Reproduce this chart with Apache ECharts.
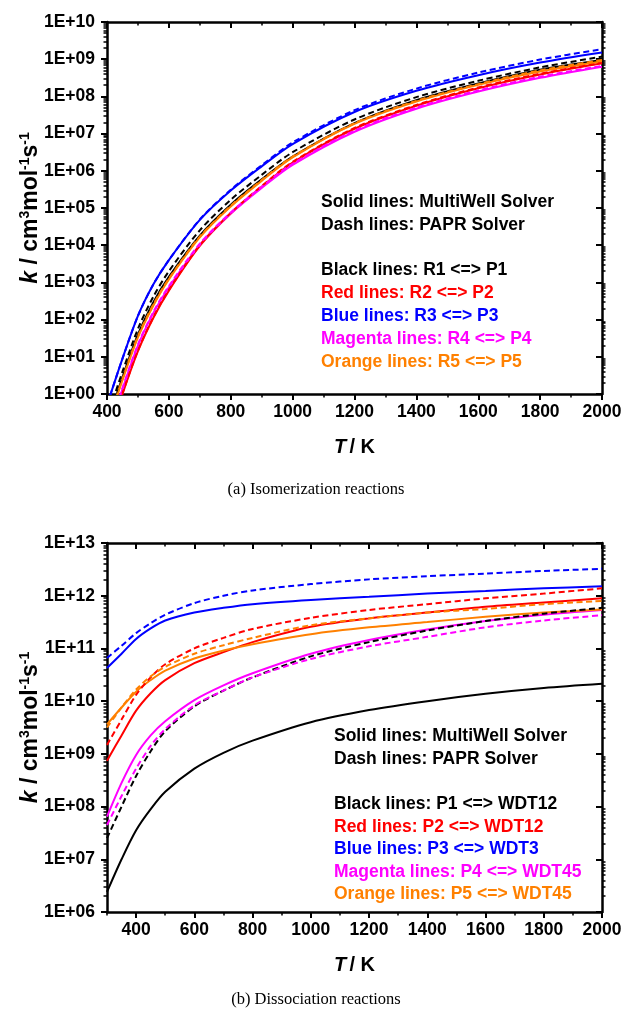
<!DOCTYPE html>
<html>
<head>
<meta charset="utf-8">
<script src="https://cdn.jsdelivr.net/npm/echarts@6/dist/echarts.min.js"></script>
<style>
html,body{margin:0;padding:0;background:#fff;}
#main{width:632px;height:1014px;}
</style>
</head>
<body>
<div id="main"></div>
<script>
// values are log10(k)
var tempA = [400, 450, 500, 550, 600, 700, 800, 900, 1000, 1200, 1400, 1600, 1800, 2000];
var aBlackSolid   = [-0.8, 0.45, 1.6, 2.47, 3.15, 4.26, 5.09, 5.77, 6.38, 7.28, 7.9, 8.35, 8.72, 8.98];
var aBlackDash    = [-0.65, 0.6, 1.75, 2.62, 3.3, 4.4, 5.22, 5.89, 6.5, 7.38, 7.98, 8.42, 8.78, 9.07];
var aRedSolid     = [-1.25, 0.0, 1.15, 2.05, 2.78, 3.98, 4.85, 5.57, 6.22, 7.13, 7.75, 8.22, 8.59, 8.89];
var aRedDash      = [-1.23, 0.02, 1.17, 2.07, 2.8, 4.0, 4.87, 5.59, 6.24, 7.15, 7.77, 8.24, 8.61, 8.9];
var aBlueSolid    = [-0.3, 0.95, 2.1, 2.95, 3.6, 4.68, 5.47, 6.12, 6.72, 7.58, 8.15, 8.57, 8.91, 9.18];
var aBlueDash     = [-0.3, 0.95, 2.1, 2.95, 3.6, 4.69, 5.49, 6.15, 6.76, 7.63, 8.21, 8.64, 8.99, 9.27];
var aMagentaSolid = [-1.12, 0.13, 1.3, 2.18, 2.87, 4.01, 4.85, 5.54, 6.16, 7.05, 7.67, 8.13, 8.5, 8.8];
var aMagentaDash  = [-1.09, 0.16, 1.33, 2.21, 2.9, 4.04, 4.88, 5.57, 6.19, 7.08, 7.7, 8.16, 8.53, 8.82];
var aOrangeSolid  = [-0.88, 0.37, 1.52, 2.38, 3.08, 4.21, 5.04, 5.73, 6.36, 7.26, 7.86, 8.31, 8.67, 8.94];
var aOrangeDash   = [-0.85, 0.4, 1.55, 2.41, 3.1, 4.23, 5.06, 5.75, 6.38, 7.28, 7.88, 8.33, 8.7, 8.98];

var tempB = [300, 350, 400, 450, 500, 600, 700, 800, 1000, 1200, 1400, 1600, 1800, 2000];
var bBlackSolid   = [6.38, 7.0, 7.55, 7.95, 8.28, 8.72, 9.02, 9.25, 9.6, 9.83, 10.0, 10.14, 10.25, 10.33];
var bBlackDash    = [7.4, 8.0, 8.58, 9.05, 9.43, 9.9, 10.2, 10.45, 10.85, 11.12, 11.34, 11.52, 11.66, 11.77];
var bRedSolid     = [8.87, 9.35, 9.82, 10.15, 10.4, 10.72, 10.93, 11.12, 11.41, 11.57, 11.68, 11.79, 11.87, 11.95];
var bRedDash      = [9.17, 9.65, 10.12, 10.45, 10.7, 11.0, 11.2, 11.37, 11.58, 11.73, 11.84, 11.95, 12.04, 12.14];
var bBlueSolid    = [10.63, 10.9, 11.18, 11.38, 11.53, 11.68, 11.77, 11.84, 11.92, 11.98, 12.04, 12.09, 12.14, 12.18];
var bBlueDash     = [10.82, 11.05, 11.29, 11.48, 11.64, 11.86, 12.0, 12.1, 12.22, 12.31, 12.37, 12.42, 12.47, 12.51];
var bMagentaSolid = [7.81, 8.45, 8.98, 9.35, 9.62, 10.02, 10.3, 10.53, 10.9, 11.16, 11.36, 11.52, 11.64, 11.73];
var bMagentaDash  = [7.65, 8.2, 8.72, 9.15, 9.47, 9.92, 10.2, 10.45, 10.8, 11.04, 11.22, 11.4, 11.53, 11.63];
var bOrangeSolid  = [9.56, 9.88, 10.18, 10.4, 10.58, 10.81, 10.96, 11.08, 11.27, 11.4, 11.5, 11.6, 11.68, 11.74];
var bOrangeDash   = [9.5, 9.88, 10.22, 10.47, 10.65, 10.9, 11.06, 11.2, 11.44, 11.57, 11.68, 11.75, 11.84, 11.9];

var xTicksA = [400, 600, 800, 1000, 1200, 1400, 1600, 1800, 2000];
var xTicksB = [400, 600, 800, 1000, 1200, 1400, 1600, 1800, 2000];
var yDecadesA = [0, 1, 2, 3, 4, 5, 6, 7, 8, 9, 10];
var yDecadesB = [6, 7, 8, 9, 10, 11, 12, 13];

var notesA = ['Solid lines: MultiWell Solver', 'Dash lines: PAPR Solver', '',
  'Black lines: R1 <=> P1', 'Red lines: R2 <=> P2', 'Blue lines: R3 <=> P3',
  'Magenta lines: R4 <=> P4', 'Orange lines: R5 <=> P5'];
var notesB = ['Solid lines: MultiWell Solver', 'Dash lines: PAPR Solver', '',
  'Black lines: P1 <=> WDT12', 'Red lines: P2 <=> WDT12', 'Blue lines: P3 <=> WDT3',
  'Magenta lines: P4 <=> WDT45', 'Orange lines: P5 <=> WDT45'];
var noteColors = ['#000', '#000', '#000', '#000', '#ff0000', '#0000ff', '#ff00ff', '#ff8000'];

var FONT = '"Liberation Sans", Arial, sans-serif';
var chart = echarts.init(document.getElementById('main'));

function pow10(arr) { return arr.map(function (v) { return Math.pow(10, v); }); }
function logLabel(v) {
  var e = Math.round(Math.log10(v));
  return '1E+' + (e < 10 ? '0' : '') + e;
}
function minorLog(decs) {
  var out = [];
  for (var i = 0; i < decs.length - 1; i++)
    for (var m = 2; m <= 9; m++) out.push(m * Math.pow(10, decs[i]));
  return out;
}
function hundreds(min, skip) {
  var out = [];
  for (var t = min; t <= 2000; t += 100) if (skip.indexOf(t) < 0) out.push(t);
  return out;
}

var frame = { show: true, lineStyle: { color: '#000', width: 2.5 } };
var yTitleRich = {
  i: { fontStyle: 'italic', fontWeight: 'bold', fontSize: 23, fontFamily: FONT, color: '#000' },
  n: { fontWeight: 'bold', fontSize: 23, fontFamily: FONT, color: '#000' },
  s: { fontWeight: 'bold', fontSize: 14, fontFamily: FONT, color: '#000', verticalAlign: 'top', lineHeight: 25, padding: [0, 0, 10, 0] }
};
var xTitleRich = {
  i: { fontStyle: 'italic', fontWeight: 'bold', fontSize: 20, fontFamily: FONT, color: '#000' },
  n: { fontWeight: 'bold', fontSize: 20, fontFamily: FONT, color: '#000' }
};
var tickFont = { fontSize: 17.5, fontWeight: 'bold', fontFamily: FONT, color: '#000' };

function xAxes(gi, min, major) {
  var minor = hundreds(min, major);
  var base = { type: 'value', gridIndex: gi, min: min, max: 2000, splitLine: { show: false } };
  return [
    Object.assign({}, base, {
      position: 'bottom', axisLine: frame,
      axisTick: { show: true, customValues: major, length: 6, lineStyle: { width: 2, color: '#000' } },
      axisLabel: Object.assign({ customValues: major, margin: 9, formatter: function (v) { return String(v); } }, tickFont),
      name: '{i|T} {n|/ K}', nameLocation: 'middle', nameGap: 43, nameMoveOverlap: false,
      nameTextStyle: { rich: xTitleRich }
    }),
    Object.assign({}, base, {
      position: 'bottom', axisLine: { show: false },
      axisTick: { show: true, customValues: minor, length: 3.5, lineStyle: { width: 1.5, color: '#000' } },
      axisLabel: { show: false }
    }),
    Object.assign({}, base, {
      position: 'top', axisLine: frame,
      axisTick: { show: true, inside: true, customValues: major, length: 6, lineStyle: { width: 2, color: '#000' } },
      axisLabel: { show: false }
    }),
    Object.assign({}, base, {
      position: 'top', axisLine: { show: false },
      axisTick: { show: true, inside: true, customValues: minor, length: 3.5, lineStyle: { width: 1.5, color: '#000' } },
      axisLabel: { show: false }
    })
  ];
}

function yAxes(gi, decs) {
  var major = decs.map(function (d) { return Math.pow(10, d); });
  var minor = minorLog(decs);
  var base = { type: 'log', logBase: 10, gridIndex: gi, min: major[0], max: major[major.length - 1], splitLine: { show: false } };
  return [
    Object.assign({}, base, {
      position: 'left', axisLine: frame,
      axisTick: { show: true, customValues: major, length: 6, lineStyle: { width: 2, color: '#000' } },
      axisLabel: Object.assign({ customValues: major, formatter: logLabel, margin: 12 }, tickFont),
      name: '{i|k}{n| / cm}{s|3}{n|mol}{s|-1}{n|s}{s|-1}', nameLocation: 'middle', nameGap: 64, nameMoveOverlap: false,
      nameTextStyle: { rich: yTitleRich }
    }),
    Object.assign({}, base, {
      position: 'left', axisLine: { show: false },
      axisTick: { show: true, customValues: minor, length: 3.5, lineStyle: { width: 1.5, color: '#000' } },
      axisLabel: { show: false }
    }),
    Object.assign({}, base, {
      position: 'right', axisLine: frame,
      axisTick: { show: true, inside: true, customValues: major, length: 6, lineStyle: { width: 2, color: '#000' } },
      axisLabel: { show: false }
    }),
    Object.assign({}, base, {
      position: 'right', axisLine: { show: false },
      axisTick: { show: true, customValues: minor, length: 3.5, lineStyle: { width: 1.5, color: '#000' } },
      axisLabel: { show: false }
    })
  ];
}

function line(temps, vals, color, dashed, axisIdx) {
  var k = pow10(vals);
  return {
    type: 'line', xAxisIndex: axisIdx, yAxisIndex: axisIdx, smooth: 0.3,
    showSymbol: false, symbol: 'none', clip: true, silent: true,
    lineStyle: { color: color, width: 2, type: dashed ? [6, 3.5] : 'solid' },
    data: temps.map(function (t, i) { return [t, k[i]]; })
  };
}

function notes(list, x, ys) {
  return list.map(function (txt, i) {
    return {
      type: 'text', x: x, y: ys[i], silent: true,
      style: { text: txt, fill: noteColors[i], font: 'bold 17.5px ' + FONT, verticalAlign: 'middle' }
    };
  });
}

var option = {
  animation: false,
  backgroundColor: '#fff',
  grid: [
    { left: 107, right: 30, top: 22, height: 372, outerBoundsMode: 'none' },
    { left: 107, right: 30, top: 543, height: 369, outerBoundsMode: 'none' }
  ],
  xAxis: xAxes(0, 400, xTicksA).concat(xAxes(1, 300, xTicksB)),
  yAxis: yAxes(0, yDecadesA).concat(yAxes(1, yDecadesB)),
  series: [
    line(tempA, aBlackSolid, '#000000', false, 0),
    line(tempA, aRedSolid, '#ff0000', false, 0),
    line(tempA, aMagentaSolid, '#ff00ff', false, 0),
    line(tempA, aOrangeSolid, '#ff8000', false, 0),
    line(tempA, aBlueSolid, '#0000ff', false, 0),
    line(tempA, aBlackDash, '#000000', true, 0),
    line(tempA, aRedDash, '#ff0000', true, 0),
    line(tempA, aMagentaDash, '#ff00ff', true, 0),
    line(tempA, aOrangeDash, '#ff8000', true, 0),
    line(tempA, aBlueDash, '#0000ff', true, 0),

    line(tempB, bBlackSolid, '#000000', false, 4),
    line(tempB, bRedSolid, '#ff0000', false, 4),
    line(tempB, bMagentaSolid, '#ff00ff', false, 4),
    line(tempB, bOrangeSolid, '#ff8000', false, 4),
    line(tempB, bBlueSolid, '#0000ff', false, 4),
    line(tempB, bBlackDash, '#000000', true, 4),
    line(tempB, bRedDash, '#ff0000', true, 4),
    line(tempB, bMagentaDash, '#ff00ff', true, 4),
    line(tempB, bOrangeDash, '#ff8000', true, 4),
    line(tempB, bBlueDash, '#0000ff', true, 4)
  ],
  graphic: notes(notesA, 321, [202, 225, 247, 270, 293, 316, 339, 362])
    .concat(notes(notesB, 334, [736, 759, 781, 804, 827, 849, 872, 894]))
    .concat([
      { type: 'text', x: 316, y: 490, silent: true,
        style: { text: '(a) Isomerization reactions', fill: '#000', font: '16.5px "Liberation Serif", "Times New Roman", serif', align: 'center', verticalAlign: 'middle' } },
      { type: 'text', x: 316, y: 1000, silent: true,
        style: { text: '(b) Dissociation reactions', fill: '#000', font: '16.5px "Liberation Serif", "Times New Roman", serif', align: 'center', verticalAlign: 'middle' } }
    ])
};

chart.setOption(option);
window.addEventListener('resize', function () { chart.resize(); });
</script>
</body>
</html>
